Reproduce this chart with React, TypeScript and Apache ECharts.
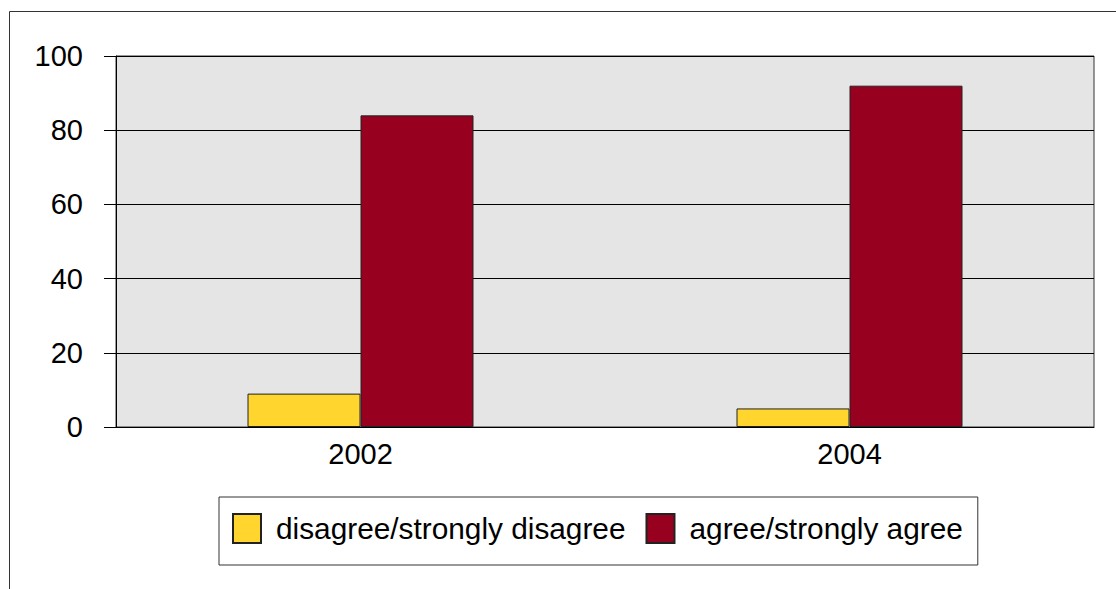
import React, { useEffect, useRef } from "react";
import * as echarts from "echarts";

const categories = ["2002", "2004"];
const disagreeValues = [9, 5];
const agreeValues = [84, 92];
const yTicks = { min: 0, max: 100, interval: 20 };
const seriesNames = ["disagree/strongly disagree", "agree/strongly agree"];

export default function App() {
  const ref = useRef<HTMLDivElement>(null);
  useEffect(() => {
    if (!ref.current) return;
    const chart = echarts.init(ref.current, undefined, { renderer: "svg" });
    const font = "'Liberation Sans', Arial, sans-serif";
    chart.setOption({
      animation: false,
      backgroundColor: "#ffffff",
      graphic: [
        {
          type: "rect",
          shape: { x: 9.5, y: 11.5, width: 1200, height: 700 },
          style: { fill: "none", stroke: "#333", lineWidth: 1 },
          silent: true,
        },
      ],
      grid: {
        left: 116,
        top: 56,
        right: 22,
        bottom: 162,
        show: true,
        backgroundColor: "#e5e5e5",
        borderColor: "#333",
        borderWidth: 1,
      },
      legend: {
        left: 219,
        top: 497,
        orient: "horizontal",
        icon: "rect",
        itemWidth: 28,
        itemHeight: 29,
        itemGap: 20,
        padding: [16, 15, 21, 13],
        borderColor: "#333",
        borderWidth: 1,
        backgroundColor: "#fff",
        textStyle: {
          fontFamily: font,
          fontSize: 29.8,
          color: "#000",
          padding: [0, 0, 0, 10],
        },
        data: seriesNames,
      },
      xAxis: {
        type: "category",
        data: categories,
        axisLine: { show: true, lineStyle: { color: "#000", width: 1 } },
        axisTick: { show: false },
        axisLabel: { fontFamily: font, fontSize: 29, color: "#000", margin: 12 },
      },
      yAxis: {
        type: "value",
        min: yTicks.min,
        max: yTicks.max,
        interval: yTicks.interval,
        axisLine: { show: true, lineStyle: { color: "#000", width: 1 } },
        axisTick: { show: true, length: 12, lineStyle: { color: "#000" } },
        splitLine: { show: true, lineStyle: { color: "#000", width: 1 } },
        axisLabel: { fontFamily: font, fontSize: 29, color: "#000", margin: 33 },
      },
      series: [
        {
          name: seriesNames[0],
          type: "bar",
          data: disagreeValues,
          barWidth: 113,
          barGap: "0%",
          itemStyle: { color: "#ffd52e", borderColor: "#222", borderWidth: 1 },
        },
        {
          name: seriesNames[1],
          type: "bar",
          data: agreeValues,
          barWidth: 113,
          barGap: "0%",
          itemStyle: { color: "#98001f", borderColor: "#222", borderWidth: 1 },
        },
      ],
    });
    return () => chart.dispose();
  }, []);
  return (
    <div
      ref={ref}
      style={{ position: "fixed", left: 0, top: 0, width: 1116, height: 589 }}
    />
  );
}
